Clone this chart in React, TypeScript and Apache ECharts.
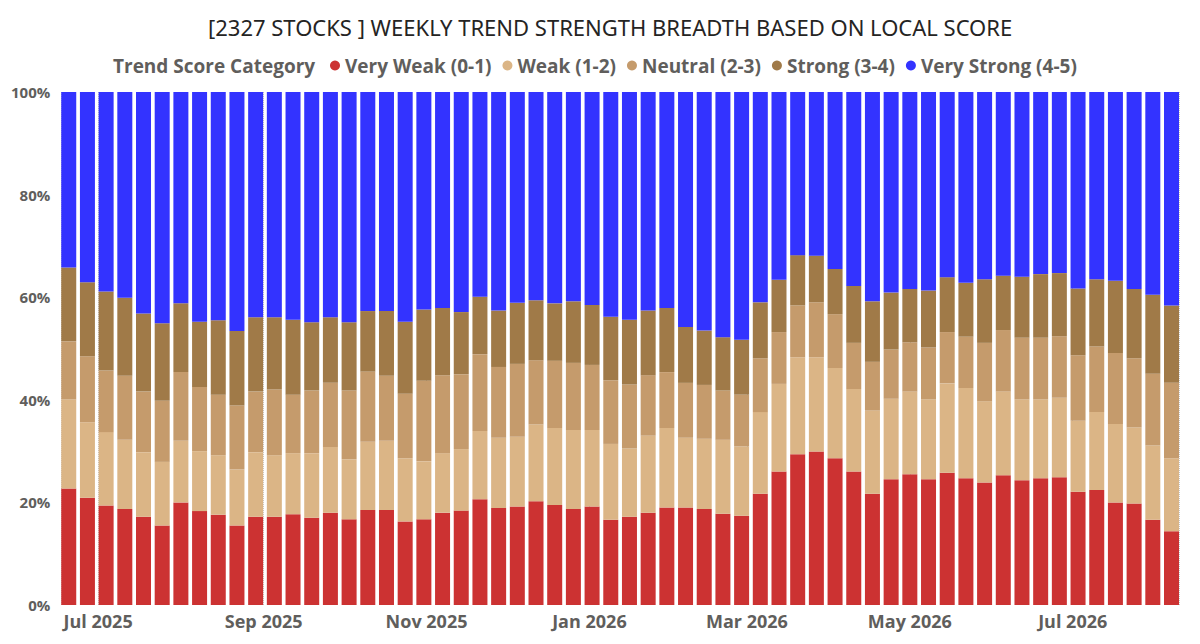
import React, { useEffect, useRef } from "react";
import * as echarts from "echarts";

const weeks: string[] = [
  "2025-06-20", "2025-06-27", "2025-07-04", "2025-07-11", "2025-07-18", "2025-07-25",
  "2025-08-01", "2025-08-08", "2025-08-15", "2025-08-22", "2025-08-29", "2025-09-05",
  "2025-09-12", "2025-09-19", "2025-09-26", "2025-10-03", "2025-10-10", "2025-10-17",
  "2025-10-24", "2025-10-31", "2025-11-07", "2025-11-14", "2025-11-21", "2025-11-28",
  "2025-12-05", "2025-12-12", "2025-12-19", "2025-12-26", "2026-01-02", "2026-01-09",
  "2026-01-16", "2026-01-23", "2026-01-30", "2026-02-06", "2026-02-13", "2026-02-20",
  "2026-02-27", "2026-03-06", "2026-03-13", "2026-03-20", "2026-03-27", "2026-04-03",
  "2026-04-10", "2026-04-17", "2026-04-24", "2026-05-01", "2026-05-08", "2026-05-15",
  "2026-05-22", "2026-05-29", "2026-06-05", "2026-06-12", "2026-06-19", "2026-06-26",
  "2026-07-03", "2026-07-10", "2026-07-17", "2026-07-24", "2026-07-31", "2026-08-07",
];

const veryWeak: number[] = [
  22.7, 20.9, 19.4, 18.7, 17.2, 15.5, 20.0, 18.3, 17.6, 15.5,
  17.2, 17.2, 17.7, 17.0, 18.0, 16.7, 18.5, 18.5, 16.3, 16.7,
  18.0, 18.4, 20.6, 18.9, 19.2, 20.2, 19.5, 18.7, 19.2, 16.6,
  17.2, 18.0, 19.0, 19.0, 18.7, 17.8, 17.4, 21.7, 26.0, 29.4,
  29.9, 28.6, 26.0, 21.7, 24.5, 25.5, 24.5, 25.8, 24.7, 23.9,
  25.3, 24.3, 24.7, 24.9, 22.1, 22.4, 20.0, 19.8, 16.6, 14.4,
];
const weak: number[] = [
  17.4, 14.7, 14.3, 13.5, 12.6, 12.4, 12.0, 11.7, 11.6, 10.9,
  12.6, 12.0, 11.9, 12.6, 12.8, 11.7, 13.3, 13.5, 12.3, 11.3,
  11.6, 12.0, 13.3, 13.7, 13.6, 15.0, 15.0, 15.4, 14.9, 14.8,
  13.3, 15.0, 15.5, 13.6, 13.7, 14.4, 13.5, 15.9, 17.1, 18.9,
  18.4, 17.6, 16.1, 16.2, 15.7, 16.1, 15.6, 17.4, 17.6, 15.8,
  16.3, 15.8, 15.4, 15.5, 13.8, 15.2, 15.3, 14.8, 14.5, 14.2,
];
const neutral: number[] = [
  11.3, 12.9, 12.0, 12.5, 11.8, 11.9, 13.4, 12.5, 11.8, 12.5,
  11.8, 12.8, 11.4, 12.2, 12.5, 13.4, 13.7, 12.7, 12.6, 15.7,
  15.2, 14.6, 15.0, 13.8, 14.2, 12.5, 13.1, 13.1, 12.7, 12.4,
  12.5, 11.8, 10.9, 10.7, 10.5, 9.6, 10.1, 10.5, 10.1, 10.1,
  10.7, 10.5, 9.0, 9.5, 9.6, 9.6, 10.1, 10.0, 10.0, 11.4,
  12.0, 12.0, 12.0, 12.0, 12.8, 12.8, 13.8, 13.5, 14.0, 14.7,
];
const strong: number[] = [
  14.4, 14.4, 15.4, 15.2, 15.2, 15.1, 13.4, 12.7, 14.5, 14.5,
  14.5, 14.1, 14.6, 13.3, 12.8, 13.3, 11.8, 12.6, 14.0, 13.9,
  13.1, 12.1, 11.2, 11.0, 11.9, 11.7, 11.2, 12.0, 11.7, 12.4,
  12.6, 12.6, 12.5, 10.9, 10.6, 10.4, 10.7, 10.9, 10.2, 9.8,
  9.1, 8.8, 11.1, 11.8, 11.1, 10.4, 11.1, 10.7, 10.5, 12.4,
  10.6, 11.9, 12.4, 12.3, 13.0, 13.1, 14.1, 13.5, 15.4, 15.1,
];
const veryStrong: number[] = [
  34.2, 37.1, 38.9, 40.1, 43.2, 45.1, 41.2, 44.8, 44.5, 46.6,
  43.9, 43.9, 44.4, 44.9, 43.9, 44.9, 42.7, 42.7, 44.8, 42.4,
  42.1, 42.9, 39.9, 42.6, 41.1, 40.6, 41.2, 40.8, 41.5, 43.8,
  44.4, 42.6, 42.1, 45.8, 46.5, 47.8, 48.3, 41.0, 36.6, 31.8,
  31.9, 34.5, 37.8, 40.8, 39.1, 38.4, 38.7, 36.1, 37.2, 36.5,
  35.8, 36.0, 35.5, 35.3, 38.3, 36.5, 36.8, 38.4, 39.5, 41.6,
];

const categories: string[] = [
  "Very Weak (0-1)",
  "Weak (1-2)",
  "Neutral (2-3)",
  "Strong (3-4)",
  "Very Strong (4-5)",
];
const colors: string[] = ["#CC3232", "#DBB586", "#C59B6C", "#A07A48", "#3333FF"];
const yTicks: number[] = [0, 20, 40, 60, 80, 100];
const monthNames = ["Jan", "Feb", "Mar", "Apr", "May", "Jun", "Jul", "Aug", "Sep", "Oct", "Nov", "Dec"];

const FONT = "Open Sans";

export default function App() {
  const ref = useRef<HTMLDivElement>(null);

  useEffect(() => {
    if (!ref.current) return;
    const chart = echarts.init(ref.current, undefined, { renderer: "svg" });
    const toTs = (s: string) => {
      const [y, m, d] = s.split("-").map(Number);
      return Date.UTC(y, m - 1, d);
    };
    const seriesValues = [veryWeak, weak, neutral, strong, veryStrong];
    const DAY = 24 * 3600 * 1000;

    chart.setOption({
      animation: false,
      useUTC: true,
      backgroundColor: "#ffffff",
      title: [
        {
          text: "[2327 STOCKS ] WEEKLY TREND STRENGTH BREADTH BASED ON LOCAL SCORE",
          left: 195,
          top: 3,
          textStyle: {
            fontFamily: "Noto Sans",
            fontSize: 22,
            fontWeight: "normal",
            color: "#252423",
          },
        },
        {
          text: "Trend Score Category",
          left: 100,
          top: 43,
          textStyle: {
            fontFamily: FONT,
            fontSize: 19,
            fontWeight: "bold",
            color: "#605E5C",
          },
        },
      ],
      legend: {
        left: 317,
        top: 43,
        icon: "circle",
        itemWidth: 10,
        itemHeight: 10,
        itemGap: 11,
        data: categories,
        textStyle: {
          fontFamily: FONT,
          fontSize: 19,
          fontWeight: "bold",
          color: "#605E5C",
        },
      },
      grid: { left: 53, right: 13, top: 84, bottom: 31, containLabel: false },
      xAxis: {
        type: "time",
        min: toTs(weeks[0]),
        max: toTs(weeks[weeks.length - 1]),
        minInterval: 65 * DAY,
        maxInterval: 75 * DAY,
        axisLine: { show: false },
        axisTick: { show: false },
        splitLine: { show: true, lineStyle: { type: "dotted", color: "#C8C6C4", width: 1 } },
        axisLabel: {
          showMinLabel: false,
          showMaxLabel: false,
          fontFamily: FONT,
          fontSize: 18,
          fontWeight: "bold",
          color: "#605E5C",
          margin: 7,
          formatter: (v: number) => {
            const d = new Date(v);
            if (d.getUTCDate() !== 1) return "";
            return monthNames[d.getUTCMonth()] + " " + d.getUTCFullYear();
          },
        },
      },
      yAxis: {
        type: "value",
        min: 0,
        max: 100,
        interval: 20,
        axisLine: { show: false },
        axisTick: { show: false },
        splitLine: { show: false },
        axisLabel: {
          fontFamily: FONT,
          fontSize: 15,
          fontWeight: "bold",
          color: "#605E5C",
          margin: 11,
          formatter: (v: number) => (yTicks.includes(v) ? v + "%" : ""),
        },
      },
      series: categories.map((name, i) => ({
        name,
        type: "bar",
        stack: "total",
        barWidth: 15,
        itemStyle: { color: colors[i] },
        emphasis: { disabled: true },
        data: weeks.map((w, j) => [toTs(w), seriesValues[i][j]]),
      })),
    });

    return () => chart.dispose();
  }, []);

  return <div ref={ref} style={{ width: 1184, height: 628 }} />;
}
